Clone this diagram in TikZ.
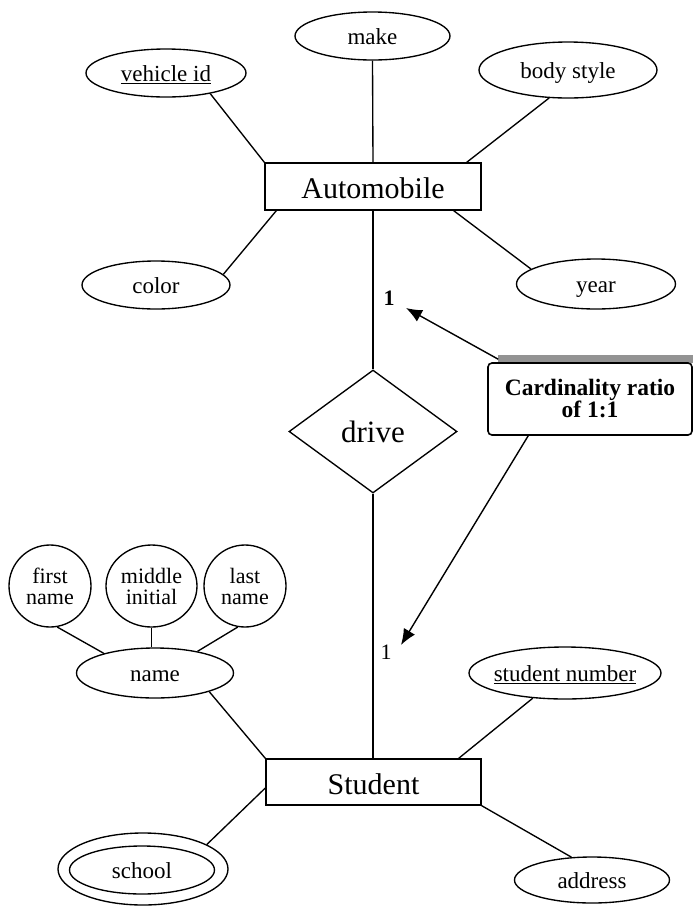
\documentclass[tikz,border=0pt]{standalone}
\usepackage{fontspec}
\setmainfont{Liberation Serif}
\usetikzlibrary{shapes.geometric,arrows.meta}
\tikzset{
  ln/.style={line width=1.35pt},
  attr/.style={ellipse, draw, line width=1.35pt, inner sep=0pt, text height=17pt, text depth=0pt, font=\fontsize{23}{23}\selectfont},
  ent/.style={rectangle, draw, line width=1.35pt, inner sep=0pt, text height=24pt, text depth=0pt, font=\fontsize{30}{30}\selectfont},
  circ/.style={ellipse, draw, line width=1.35pt, inner sep=0pt, align=center, font=\fontsize{22}{21}\selectfont},
  rel/.style={diamond, draw, line width=1.35pt, inner sep=0pt, text height=22pt, text depth=0pt, font=\fontsize{31}{31}\selectfont},
  note/.style={rectangle, draw, rounded corners=4pt, line width=1.6pt, inner sep=0pt, align=center, font=\fontsize{23.5}{23}\selectfont\bfseries},
  card/.style={inner sep=0pt, font=\fontsize{22}{22}\selectfont},
  arr/.style={line width=1.4pt, -{Latex[length=16pt,width=13pt]}}
}
\begin{document}
\begin{tikzpicture}[x=1pt,y=-1pt]
\path[use as bounding box] (0,0) rectangle (693,906);

% Automobile part
\node[ent, minimum width=216pt, minimum height=47pt] (auto) at (373,186.5) {Automobile};
\node[attr, minimum width=155pt, minimum height=48pt] (make) at (372.5,36) {make};
\node[attr, minimum width=160pt, minimum height=48pt] (vid) at (166,73) {\underline{vehicle id}};
\node[attr, minimum width=178pt, minimum height=56pt] (body) at (568,70) {body style};
\node[attr, minimum width=148pt, minimum height=48pt] (color) at (156,285) {color};
\node[attr, minimum width=159pt, minimum height=50pt] (year) at (596,284) {year};

\draw[ln] (make.south) -- (auto.north);
\draw[ln] (vid.-25) -- (auto.north west);
\draw[ln] (body.-124) -- ([xshift=-15pt]auto.north east);
\draw[ln] (color.9) -- ([xshift=12pt]auto.south west);
\draw[ln] (year.167) -- ([xshift=-28pt]auto.south east);

% relationship
\node[rel, minimum width=168pt, minimum height=123pt] (drive) at (373,431.5) {drive};
\node[ent, minimum width=215pt, minimum height=46pt] (student) at (373.5,782) {Student};
\draw[ln] (auto.south) -- (drive.north);
\draw[ln] (drive.south) -- (drive.south |- student.north);

% cardinality labels
\node[card, font=\fontsize{22}{22}\selectfont\bfseries] (one1) at (389,298) {1};
\node[card] (one2) at (386,652) {1};

% note box
\fill[gray!85] (498,355) rectangle (693,363);
\node[note, minimum width=204pt, minimum height=72pt] (note) at (590,399) {Cardinality ratio\\[-1pt]of 1:1};
\coordinate (t1) at (406,308);
\coordinate (t2) at (401,645);
\draw[arr] ([xshift=11pt,yshift=3pt]note.north west) -- (t1);
\draw[arr] ([xshift=41pt]note.south west) -- (t2);

% Student part
\node[attr, minimum width=157pt, minimum height=50pt] (name) at (155,673) {name};
\node[circ, minimum width=82pt, minimum height=82pt] (first) at (50,586) {first\\name};
\node[circ, minimum width=91pt, minimum height=82pt] (mid) at (151.5,586) {middle\\initial};
\node[circ, minimum width=82pt, minimum height=82pt] (last) at (245,586) {last\\name};
\node[attr, minimum width=192pt, minimum height=52pt] (sn) at (565,673) {\makebox[0pt]{\underline{student number}}};
\node[attr, minimum width=155pt, minimum height=46pt] (addr) at (592,880) {address};
\node[attr, minimum width=145pt, minimum height=48pt] (school) at (142,870) {school};
\node[ellipse, draw, line width=1.35pt, minimum width=170pt, minimum height=72pt] (schoolo) at (143,869) {};

\draw[ln] (first.-80) -- (name.159);
\draw[ln] (mid.south) -- (mid.south |- name.north);
\draw[ln] (last.-100) -- (name.27);
\draw[ln] (name.-19) -- (student.north west);
\draw[ln] (sn.-142) -- ([xshift=-23pt]student.north east);
\draw[ln] (student.south east) -- (addr.132);
\draw[ln] (schoolo.21) -- ([yshift=-6pt]student.west);
\end{tikzpicture}
\end{document}
